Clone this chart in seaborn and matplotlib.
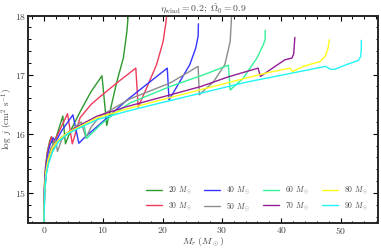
import pandas as pd
import matplotlib
matplotlib.use("Agg")
import matplotlib.pyplot as plt
from matplotlib.ticker import MultipleLocator
import seaborn as sns

# Curves: enclosed mass M_r (Msun) vs log j
masses = [20, 30, 40, 50, 60, 70, 80, 90]

m20_x = [0, 0.1, 0.3, 0.6, 1.0, 1.3, 1.6, 2.2, 3.2, 3.65, 4.5, 6.1, 8.0, 9.8, 10.6, 11.2, 12.3, 13.4, 14.0, 14.3]
m20_y = [14.4, 15.1, 15.45, 15.7, 15.88, 15.95, 15.82, 15.98, 16.3, 15.83, 16.05, 16.37, 16.72, 16.98, 16.14, 16.4, 16.88, 17.28, 17.73, 18.1]

m30_x = [0, 0.1, 0.3, 0.6, 1.0, 1.3, 1.7, 2.4, 4.0, 4.8, 6.1, 8.0, 9.5, 12.8, 15.5, 15.9, 17.3, 19.0, 20.1, 20.6, 20.8]
m30_y = [14.4, 15.1, 15.45, 15.68, 15.85, 15.95, 15.85, 16.0, 16.34, 15.83, 16.27, 16.5, 16.63, 16.9, 17.11, 16.45, 16.77, 17.17, 17.56, 17.9, 18.1]

m40_x = [0, 0.1, 0.3, 0.6, 1.0, 1.6, 2.0, 3.0, 4.9, 5.9, 7.0, 8.5, 11.0, 14.0, 17.9, 20.8, 21.1, 22.9, 24.6, 25.6, 26.0, 26.05]
m40_y = [14.4, 15.05, 15.4, 15.62, 15.8, 15.93, 15.87, 16.05, 16.32, 15.84, 15.95, 16.08, 16.3, 16.57, 16.88, 17.11, 16.57, 16.88, 17.17, 17.45, 17.65, 17.86]

m50_x = [0, 0.12, 0.35, 0.7, 1.2, 2.0, 2.3, 3.0, 4.5, 6.3, 7.1, 8.0, 9.5, 14.5, 21.3, 26.0, 26.2, 28.6, 30.5, 31.4, 31.7]
m50_y = [14.4, 15.0, 15.35, 15.58, 15.76, 15.9, 15.7, 15.9, 16.05, 16.2, 15.93, 16.12, 16.3, 16.59, 16.86, 17.14, 16.66, 16.88, 17.17, 17.56, 18.1]

m60_x = [0, 0.15, 0.4, 0.8, 1.5, 2.5, 4.0, 5.5, 6.8, 7.2, 9.5, 12.0, 14.5, 21.3, 27.0, 31.1, 31.4, 33.6, 35.9, 37.0, 37.3, 37.3]
m60_y = [14.4, 15.0, 15.32, 15.52, 15.72, 15.88, 16.0, 16.08, 16.14, 15.92, 16.15, 16.35, 16.52, 16.8, 17.0, 17.16, 16.74, 16.94, 17.28, 17.51, 17.6, 17.75]

m70_x = [0, 0.13, 0.38, 0.75, 1.4, 2.5, 4.0, 6.0, 9.0, 14.0, 21.0, 26.5, 31.0, 36.1, 36.5, 38.1, 40.6, 41.8, 42.1, 42.3]
m70_y = [14.4, 15.0, 15.33, 15.54, 15.74, 15.9, 16.02, 16.14, 16.3, 16.46, 16.65, 16.8, 16.96, 17.11, 16.97, 17.08, 17.25, 17.28, 17.35, 17.63]

m80_x = [0, 0.12, 0.35, 0.7, 1.4, 2.5, 4.0, 6.0, 9.0, 14.0, 20.0, 27.0, 34.0, 38.0, 41.5, 41.9, 43.7, 46.5, 47.4, 47.9, 48.1]
m80_y = [14.4, 15.0, 15.35, 15.55, 15.75, 15.9, 16.02, 16.12, 16.27, 16.42, 16.58, 16.76, 16.94, 17.04, 17.11, 17.05, 17.14, 17.22, 17.31, 17.45, 17.59]

m90_x = [0, 0.15, 0.4, 0.8, 1.5, 2.5, 4.0, 6.0, 9.0, 14.0, 20.0, 27.0, 34.0, 41.0, 46.5, 47.5, 48.3, 49.0, 51.0, 53.0, 53.4, 53.5, 53.5]
m90_y = [14.4, 15.0, 15.3, 15.5, 15.7, 15.87, 16.0, 16.1, 16.24, 16.38, 16.53, 16.7, 16.87, 17.01, 17.12, 17.14, 17.09, 17.09, 17.17, 17.24, 17.31, 17.45, 17.58]

curves_x = [m20_x, m30_x, m40_x, m50_x, m60_x, m70_x, m80_x, m90_x]
curves_y = [m20_y, m30_y, m40_y, m50_y, m60_y, m70_y, m80_y, m90_y]
colors = ["#2e9a2e", "#ee3b5b", "#3535ff", "#8c8c8c", "#33f29a", "#951d95", "#ffff1a", "#22f5f5"]

labels = [rf"{m} $M_\odot$" for m in masses]

rows = []
for lab, xs, ys in zip(labels, curves_x, curves_y):
    for i, (x, y) in enumerate(zip(xs, ys)):
        rows.append({"model": lab, "step": i, "Mr": x, "logj": y})
df = pd.DataFrame(rows)

sns.set_style("ticks")
plt.rcParams.update({
    "font.family": "serif",
    "font.serif": ["cmr10", "DejaVu Serif"],
    "mathtext.fontset": "cm",
    "axes.formatter.use_mathtext": True,
    "axes.unicode_minus": False,
})

fig = plt.figure(figsize=(3.81, 2.5), dpi=100)
ax = fig.add_axes([0.0745, 0.11, 0.9175, 0.828])

sns.lineplot(data=df, x="Mr", y="logj", hue="model", units="model",
             estimator=None, sort=False, palette=dict(zip(labels, colors)),
             hue_order=labels, linewidth=1.0, ax=ax)

ax.set_xlim(-2.6, 56.3)
ax.set_ylim(14.5, 18)
ax.xaxis.set_major_locator(MultipleLocator(10))
ax.xaxis.set_minor_locator(MultipleLocator(2))
ax.yaxis.set_major_locator(MultipleLocator(1))
ax.yaxis.set_minor_locator(MultipleLocator(0.2))
ax.tick_params(which="both", direction="in", top=True, right=True,
               labelsize=7, colors="black", labelcolor="#444444")
ax.tick_params(which="major", length=3.5, width=0.8, pad=2)
ax.tick_params(axis="y", which="major", pad=1.5)
ax.tick_params(which="minor", length=1.8, width=0.7)
for s in ax.spines.values():
    s.set_linewidth(1.4)

ax.set_xlabel(r"$M_r\ (M_\odot)$", fontsize=7, color="#444444", labelpad=0)
ax.set_ylabel(r"$\log\ j\ ({\rm cm^2\ s^{-1}})$", fontsize=6.6, color="#444444", labelpad=0)
ax.set_title(r"$\eta_{\rm wind} = 0.2;\ \hat{\Omega}_0 = 0.9$", fontsize=7,
             color="#444444", pad=1)

handles, labs = ax.get_legend_handles_labels()
ax.legend(handles, labs, loc="lower right", ncol=4, frameon=False, fontsize=5.5,
          handlelength=2.1, columnspacing=1.6, handletextpad=0.8,
          labelspacing=0.45, borderaxespad=0.9, labelcolor="#444444")

fig.savefig("out.png", dpi=100)
